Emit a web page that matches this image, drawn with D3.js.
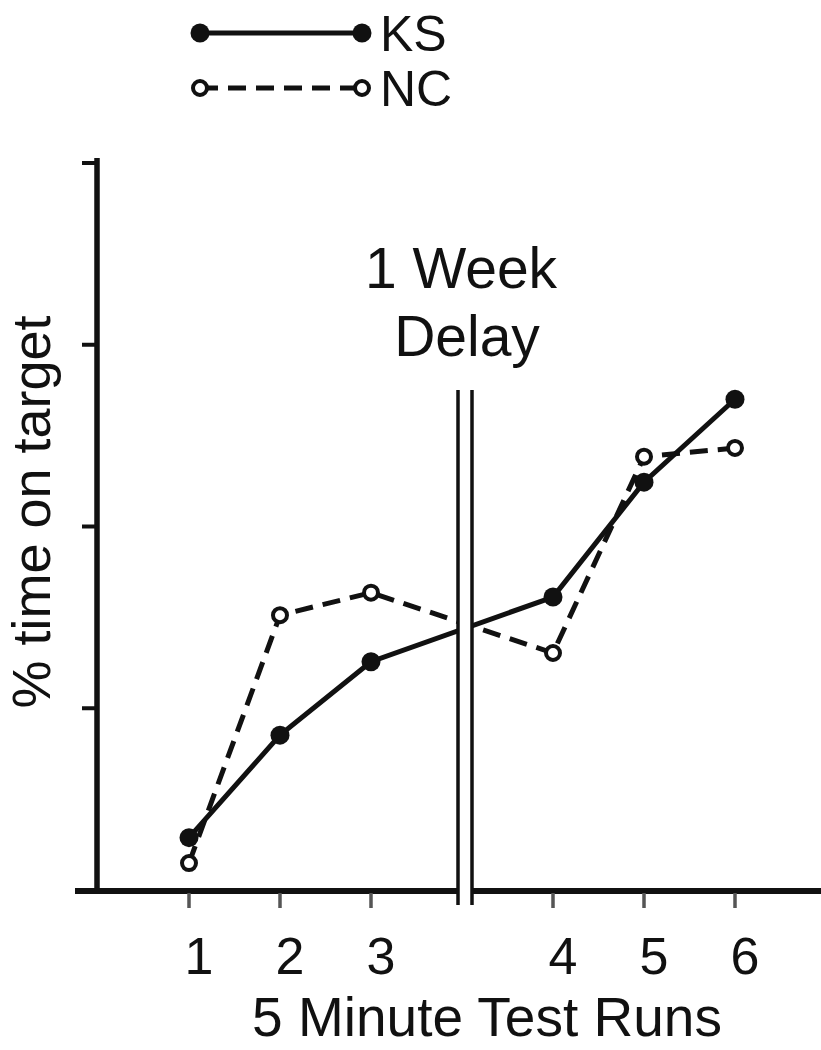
<!DOCTYPE html>
<meta charset="utf-8">
<script src="https://d3js.org/d3.v7.min.js"></script>
<style>
body { margin: 0; background: #fff; }
text { font-family: "Liberation Sans", Arial, Helvetica, sans-serif; fill: #111; }
</style>
<body>
<script>

let width = 821,
    height = 1050;

// data
let runs = ["1", "2", "3", "4", "5", "6"];
let slots = ["1", "2", "3", "break", "4", "5", "6"];
let ks = [7.2, 21.3, 31.4, 40.3, 56.1, 67.5];
let nc = [3.7, 37.8, 40.9, 32.6, 59.6, 60.8];
let yTicks = [25, 50, 75, 100];

let svg = d3.select("body").append("svg")
    .attr("width", width)
    .attr("height", height);

let x = d3.scalePoint().domain(slots).range([189, 735]);
let y = d3.scaleLinear().domain([0, 100]).range([890, 163]);

let line = d3.line()
    .x(function(d, i) { return x(runs[i]); })
    .y(function(d) { return y(d); });

// y axis
svg.append("line")
    .attr("x1", 97).attr("x2", 97)
    .attr("y1", 158).attr("y2", 893)
    .attr("stroke", "#111").attr("stroke-width", 5.5);

svg.selectAll(".ytick")
    .data(yTicks)
  .enter().append("line")
    .attr("class", "ytick")
    .attr("x1", 82).attr("x2", 97)
    .attr("y1", function(d) { return y(d); })
    .attr("y2", function(d) { return y(d); })
    .attr("stroke", "#111").attr("stroke-width", 4);

// x axis
svg.append("line")
    .attr("x1", 75).attr("x2", width)
    .attr("y1", 891).attr("y2", 891)
    .attr("stroke", "#111").attr("stroke-width", 6);

svg.selectAll(".xtick")
    .data(runs)
  .enter().append("line")
    .attr("class", "xtick")
    .attr("x1", function(d) { return x(d); })
    .attr("x2", function(d) { return x(d); })
    .attr("y1", 893).attr("y2", 908)
    .attr("stroke", "#555").attr("stroke-width", 3.5);

svg.selectAll(".xlabel")
    .data(runs)
  .enter().append("text")
    .attr("class", "xlabel")
    .attr("x", function(d) { return x(d) + 10; })
    .attr("y", 974)
    .attr("text-anchor", "middle")
    .style("font-size", "52px")
    .text(function(d) { return d; });

svg.append("text")
    .attr("x", 487).attr("y", 1036)
    .attr("text-anchor", "middle")
    .style("font-size", "55px")
    .text("5 Minute Test Runs");

svg.append("text")
    .attr("transform", "translate(50,512) rotate(-90)")
    .attr("text-anchor", "middle")
    .style("font-size", "54px")
    .text("% time on target");

// series lines
svg.append("path")
    .attr("d", line(ks))
    .attr("fill", "none")
    .attr("stroke", "#111").attr("stroke-width", 5);

svg.append("path")
    .attr("d", line(nc))
    .attr("fill", "none")
    .attr("stroke", "#111").attr("stroke-width", 5)
    .attr("stroke-dasharray", "18,10");

// break marks
let bx = x("break") + 3;
svg.append("rect")
    .attr("x", bx - 7).attr("y", 390)
    .attr("width", 14).attr("height", 517)
    .attr("fill", "#fff");
svg.selectAll(".brk")
    .data([-7, 7])
  .enter().append("line")
    .attr("class", "brk")
    .attr("x1", function(d) { return bx + d; })
    .attr("x2", function(d) { return bx + d; })
    .attr("y1", 390).attr("y2", 905)
    .attr("stroke", "#111").attr("stroke-width", 3.5);

svg.append("text")
    .attr("x", 461).attr("y", 288)
    .attr("text-anchor", "middle")
    .style("font-size", "57px")
    .text("1 Week");
svg.append("text")
    .attr("x", 467).attr("y", 356)
    .attr("text-anchor", "middle")
    .style("font-size", "57px")
    .text("Delay");

// markers
svg.selectAll(".ks")
    .data(ks)
  .enter().append("circle")
    .attr("class", "ks")
    .attr("cx", function(d, i) { return x(runs[i]); })
    .attr("cy", function(d) { return y(d); })
    .attr("r", 9.5)
    .attr("fill", "#111");

svg.selectAll(".nc")
    .data(nc)
  .enter().append("circle")
    .attr("class", "nc")
    .attr("cx", function(d, i) { return x(runs[i]); })
    .attr("cy", function(d) { return y(d); })
    .attr("r", 7)
    .attr("fill", "#fff")
    .attr("stroke", "#111").attr("stroke-width", 4);

// legend
let legend = [
  {name: "KS", y: 33, dash: null, fill: "#111", r: 9.5},
  {name: "NC", y: 88, dash: "18,10", fill: "#fff", r: 7}
];

let lg = svg.selectAll(".legend")
    .data(legend)
  .enter().append("g")
    .attr("class", "legend")
    .attr("transform", function(d) { return "translate(0," + d.y + ")"; });

lg.append("line")
    .attr("x1", 200).attr("x2", 362)
    .attr("stroke", "#111").attr("stroke-width", 5)
    .attr("stroke-dasharray", function(d) { return d.dash; });

lg.selectAll("circle")
    .data(function(d) { return [d, d]; })
  .enter().append("circle")
    .attr("cx", function(d, i) { return i ? 362 : 200; })
    .attr("r", function(d) { return d.r; })
    .attr("fill", function(d) { return d.fill; })
    .attr("stroke", "#111")
    .attr("stroke-width", function(d) { return d.fill === "#fff" ? 4 : 0; });

lg.append("text")
    .attr("x", 380).attr("y", 18)
    .style("font-size", "50px")
    .text(function(d) { return d.name; });

</script>
</body>
